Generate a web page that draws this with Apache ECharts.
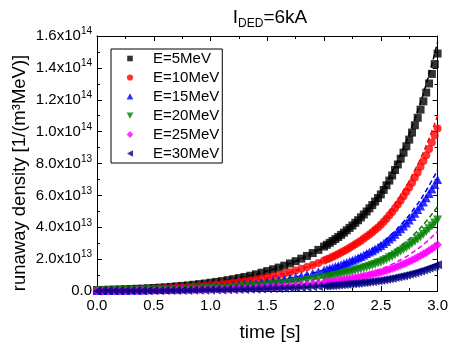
<!DOCTYPE html>
<html><head><meta charset="utf-8">
<script src="https://cdn.jsdelivr.net/npm/echarts@6/dist/echarts.min.js"></script>
<style>html,body{margin:0;padding:0;background:#fff}#c{width:451px;height:347px}</style>
</head><body><div id="c"></div>
<script>
// time axis values [s]
const times = [0,0.05,0.1,0.15,0.2,0.25,0.3,0.35,0.4,0.45,0.5,0.55,0.6,0.65,0.7,0.75,0.8,0.85,0.9,0.95,
1,1.05,1.1,1.15,1.2,1.25,1.3,1.35,1.4,1.45,1.5,1.55,1.6,1.65,1.7,1.75,1.8,1.85,1.9,1.95,
2,2.025,2.05,2.075,2.1,2.125,2.15,2.175,2.2,2.225,2.25,2.275,2.3,2.325,2.35,2.375,2.4,2.425,2.45,2.475,
2.5,2.525,2.55,2.575,2.6,2.625,2.65,2.675,2.7,2.725,2.75,2.775,2.8,2.825,2.85,2.875,2.9,2.925,2.95,2.975,3];
// runaway density, units of 1e13 1/(m^3 MeV)
const e5 = [0.06,0.07,0.08,0.09,0.10,0.11,0.12,0.14,0.15,0.17,0.19,0.21,0.23,0.26,0.29,0.32,0.35,0.39,0.43,0.47,
0.52,0.57,0.62,0.68,0.74,0.81,0.88,0.96,1.05,1.15,1.25,1.36,1.47,1.59,1.73,1.87,2.03,2.20,2.38,2.58,
2.79,2.90,3.02,3.14,3.26,3.39,3.52,3.66,3.81,3.96,4.11,4.28,4.44,4.62,4.80,4.99,5.19,5.39,5.61,5.83,
6.06,6.34,6.63,6.93,7.25,7.59,7.94,8.30,8.68,9.08,9.50,9.94,10.40,10.87,11.38,11.90,12.45,13.02,13.62,14.24,14.90];
const e10 = [0.04,0.05,0.05,0.06,0.07,0.08,0.09,0.10,0.11,0.12,0.13,0.15,0.16,0.18,0.20,0.22,0.24,0.27,0.29,0.32,
0.36,0.39,0.43,0.47,0.51,0.55,0.61,0.66,0.72,0.79,0.86,0.93,1.01,1.09,1.18,1.28,1.39,1.50,1.63,1.76,
1.91,1.99,2.06,2.15,2.23,2.32,2.41,2.51,2.61,2.71,2.82,2.93,3.04,3.16,3.29,3.42,3.55,3.69,3.84,3.99,
4.15,4.34,4.54,4.75,4.96,5.19,5.43,5.68,5.94,6.22,6.50,6.80,7.12,7.44,7.79,8.15,8.52,8.91,9.32,9.75,10.20];
const e15 = [0.03,0.03,0.04,0.04,0.05,0.05,0.06,0.07,0.07,0.08,0.09,0.10,0.11,0.12,0.13,0.15,0.17,0.18,0.20,0.22,
0.25,0.27,0.29,0.32,0.35,0.38,0.42,0.45,0.49,0.54,0.59,0.64,0.69,0.75,0.81,0.88,0.95,1.03,1.12,1.21,
1.31,1.36,1.42,1.47,1.53,1.59,1.65,1.72,1.79,1.86,1.93,2.01,2.09,2.17,2.26,2.35,2.44,2.53,2.63,2.74,
2.85,2.98,3.11,3.26,3.41,3.56,3.73,3.90,4.08,4.27,4.46,4.67,4.88,5.11,5.34,5.59,5.85,6.12,6.40,6.69,7.00];
const e20 = [0.02,0.02,0.02,0.03,0.03,0.03,0.04,0.04,0.05,0.05,0.06,0.06,0.07,0.08,0.09,0.10,0.11,0.12,0.13,0.14,
0.16,0.17,0.19,0.20,0.22,0.24,0.26,0.29,0.32,0.34,0.38,0.41,0.44,0.48,0.52,0.56,0.61,0.66,0.71,0.77,
0.84,0.87,0.90,0.94,0.98,1.01,1.05,1.10,1.14,1.18,1.23,1.28,1.33,1.38,1.44,1.49,1.55,1.62,1.68,1.75,
1.81,1.90,1.98,2.08,2.17,2.27,2.38,2.49,2.60,2.72,2.84,2.98,3.11,3.26,3.41,3.56,3.73,3.90,4.08,4.26,4.46];
const e25 = [0.012,0.014,0.015,0.017,0.019,0.021,0.024,0.027,0.030,0.033,0.037,0.041,0.046,0.050,0.056,0.062,0.068,0.075,0.083,0.092,
0.102,0.111,0.121,0.132,0.144,0.157,0.172,0.188,0.205,0.224,0.244,0.264,0.286,0.310,0.336,0.364,0.394,0.427,0.463,0.501,
0.543,0.565,0.587,0.610,0.634,0.659,0.685,0.713,0.741,0.770,0.800,0.832,0.865,0.899,0.934,0.972,1.010,1.050,1.091,1.134,
1.179,1.233,1.290,1.349,1.411,1.476,1.545,1.616,1.690,1.768,1.849,1.934,2.023,2.116,2.214,2.316,2.422,2.534,2.650,2.772,2.900];
const e30 = [0.007,0.008,0.009,0.010,0.011,0.012,0.014,0.015,0.017,0.019,0.021,0.023,0.026,0.029,0.032,0.035,0.039,0.043,0.047,0.052,
0.058,0.063,0.069,0.075,0.082,0.090,0.098,0.107,0.116,0.127,0.139,0.150,0.163,0.177,0.191,0.207,0.224,0.243,0.263,0.285,
0.309,0.321,0.334,0.347,0.361,0.375,0.390,0.405,0.421,0.438,0.455,0.473,0.492,0.512,0.532,0.553,0.575,0.597,0.621,0.645,
0.671,0.702,0.734,0.768,0.803,0.840,0.879,0.919,0.961,1.006,1.052,1.101,1.151,1.204,1.260,1.318,1.378,1.442,1.508,1.577,1.650];
// fitted curves (dashed)
const fitTimes = [0,0.1,0.2,0.3,0.4,0.5,0.6,0.7,0.8,0.9,1,1.1,1.2,1.3,1.4,1.5,1.6,1.7,1.8,1.9,2,2.1,2.2,2.3,2.4,2.5,2.6,2.7,2.8,2.9,3];
const fit5 = [0.064,0.079,0.100,0.124,0.153,0.192,0.234,0.286,0.350,0.428,0.523,0.623,0.742,0.884,1.052,1.253,1.471,1.727,2.026,2.387,2.813,3.297,3.865,4.530,5.310,6.224,7.479,8.988,10.804,12.982,15.60];
const fit10 = [0.044,0.054,0.068,0.085,0.105,0.132,0.160,0.196,0.240,0.293,0.358,0.426,0.508,0.605,0.720,0.858,1.007,1.182,1.387,1.639,1.935,2.275,2.673,3.141,3.691,4.336,5.222,6.292,7.580,9.129,11.0];
const fit15 = [0.030,0.037,0.047,0.058,0.072,0.090,0.110,0.134,0.165,0.201,0.246,0.293,0.349,0.415,0.494,0.589,0.691,0.811,0.952,1.125,1.330,1.564,1.839,2.162,2.542,2.989,3.602,4.342,5.234,6.308,7.602];
const fit20 = [0.019,0.024,0.030,0.037,0.046,0.058,0.070,0.086,0.105,0.128,0.157,0.186,0.222,0.264,0.315,0.375,0.440,0.517,0.607,0.723,0.861,1.021,1.211,1.435,1.701,2.014,2.446,2.969,3.605,4.374,5.307];
const fit25 = [0.012,0.015,0.019,0.024,0.030,0.037,0.046,0.056,0.068,0.083,0.102,0.121,0.144,0.172,0.205,0.244,0.286,0.336,0.394,0.474,0.569,0.680,0.813,0.969,1.156,1.378,1.684,2.058,2.512,3.066,3.741];
const fit30 = [0.007,0.009,0.011,0.014,0.017,0.021,0.026,0.032,0.039,0.047,0.058,0.069,0.082,0.098,0.116,0.139,0.163,0.191,0.224,0.264,0.311,0.365,0.427,0.501,0.588,0.689,0.827,0.993,1.194,1.435,1.724];

const names = ['E=5MeV','E=10MeV','E=15MeV','E=20MeV','E=25MeV','E=30MeV'];
const colors = ['#000000','#ff0000','#0000ff','#008000','#ff00ff','#000080'];
const symbols = ['rect','circle','triangle','triangle','diamond','triangle'];
const symRot = [0,0,0,180,0,90];
const symSize = [8,8,9,9,9,9];
// legend icons: 36x7 box (corner moves fix the box), glyph in the middle
const legendIcons = [
  'path://M0,0M36,7M15.2,0.7H20.8V6.3H15.2Z',
  'path://M0,0M36,7M14.9,3.5A3.1,3.1,0,1,1,21.1,3.5A3.1,3.1,0,1,1,14.9,3.5Z',
  'path://M0,0M36,7M18,0.3L21.4,6.5L14.6,6.5Z',
  'path://M0,0M36,7M14.6,0.5L21.4,0.5L18,6.7Z',
  'path://M0,0M36,7M18,0L21.3,3.5L18,7L14.7,3.5Z',
  'path://M0,0M36,7M21,0.3L21,6.7L15,3.5Z'
];
const marks = [e5,e10,e15,e20,e25,e30];
const fits = [fit5,fit10,fit15,fit20,fit25,fit30];

const FONT = 'Liberation Sans, Arial, sans-serif';
const series = [];
for (let k = 0; k < 6; k++) {
  series.push({
    name: names[k], type: 'scatter', clip: false,
    symbol: symbols[k], symbolRotate: symRot[k], symbolSize: symSize[k],
    itemStyle: { color: colors[k] },
    data: times.map((t, i) => [t, marks[k][i]]), z: 2 + 2 * k
  });
  series.push({
    name: names[k] + ' fit', type: 'line', showSymbol: false, smooth: true,
    lineStyle: { color: colors[k], width: 1.5, type: [5, 3] },
    data: fitTimes.map((t, i) => [t, fits[k][i]]), z: 3 + 2 * k
  });
}

function yFmt(v) {
  if (v === 0) return '{m|0.0}';
  let e = 13, m = v;
  if (v >= 10) { e = 14; m = v / 10; }
  return '{m|' + m.toFixed(1) + 'x10}{s|' + e + '}';
}
const tickStyle = { show: true, inside: true, length: 5, lineStyle: { color: '#000' } };
const minorStyle = { show: true, splitNumber: 2, length: 3, lineStyle: { color: '#000' } };

const chart = echarts.init(document.getElementById('c'), null, { renderer: 'canvas' });
chart.setOption({
  animation: false,
  backgroundColor: '#fff',
  grid: { left: 97, right: 10, top: 36, bottom: 56, show: false },
  legend: {
    data: names.map((n, k) => ({ name: n, icon: legendIcons[k], itemStyle: { color: colors[k] } })),
    left: 111, top: 49, orient: 'vertical', symbolKeepAspect: true,
    padding: [0, 3, 0, 1], itemWidth: 36, itemHeight: 7, itemGap: 0,
    borderColor: '#000', borderWidth: 1, backgroundColor: '#fff',
    textStyle: { fontSize: 15, lineHeight: 19, color: '#000', fontFamily: FONT }
  },
  xAxis: [{
    type: 'value', min: 0, max: 3, interval: 0.5, position: 'bottom',
    axisLine: { show: true, onZero: false, lineStyle: { color: '#000', width: 1 } },
    axisTick: tickStyle, minorTick: minorStyle, splitLine: { show: false },
    axisLabel: { margin: 7, fontSize: 15, color: '#000', fontFamily: FONT, formatter: v => v.toFixed(1) }
  }, {
    type: 'value', min: 0, max: 3, interval: 0.5, position: 'top',
    axisLine: { show: true, onZero: false, lineStyle: { color: '#000', width: 1 } },
    axisTick: tickStyle, minorTick: minorStyle, splitLine: { show: false }, axisLabel: { show: false }
  }],
  yAxis: [{
    type: 'value', min: 0, max: 16, interval: 2, position: 'left',
    axisLine: { show: true, onZero: false, lineStyle: { color: '#000', width: 1 } },
    axisTick: tickStyle, minorTick: minorStyle, splitLine: { show: false },
    axisLabel: {
      margin: 5, color: '#000', fontFamily: FONT, formatter: yFmt,
      rich: {
        m: { fontSize: 15, color: '#000', fontFamily: FONT },
        s: { fontSize: 10, color: '#000', fontFamily: FONT, padding: [0, 0, 9, 0] }
      }
    }
  }, {
    type: 'value', min: 0, max: 16, interval: 2, position: 'right',
    axisLine: { show: true, onZero: false, lineStyle: { color: '#000', width: 1 } },
    axisTick: tickStyle, minorTick: minorStyle, splitLine: { show: false }, axisLabel: { show: false }
  }],
  graphic: [
    { type: 'text', x: 270, y: 18, style: {
        text: '{a|I}{b|DED}{a|=6kA}', align: 'center', verticalAlign: 'middle',
        rich: { a: { fontSize: 19, fontFamily: FONT, fill: '#000' },
                b: { fontSize: 12, fontFamily: FONT, fill: '#000', padding: [12, 0, 0, 0] } } } },
    { type: 'text', x: 270, y: 333, style: {
        text: 'time [s]', align: 'center', verticalAlign: 'middle',
        fontSize: 19, fontFamily: FONT, fill: '#000' } },
    { type: 'text', x: 20, y: 173, rotation: Math.PI / 2, style: {
        text: 'runaway density [1/(m³MeV)]', align: 'center', verticalAlign: 'middle',
        fontSize: 18.5, fontFamily: FONT, fill: '#000' } }
  ],
  series: series
});
</script></body></html>
